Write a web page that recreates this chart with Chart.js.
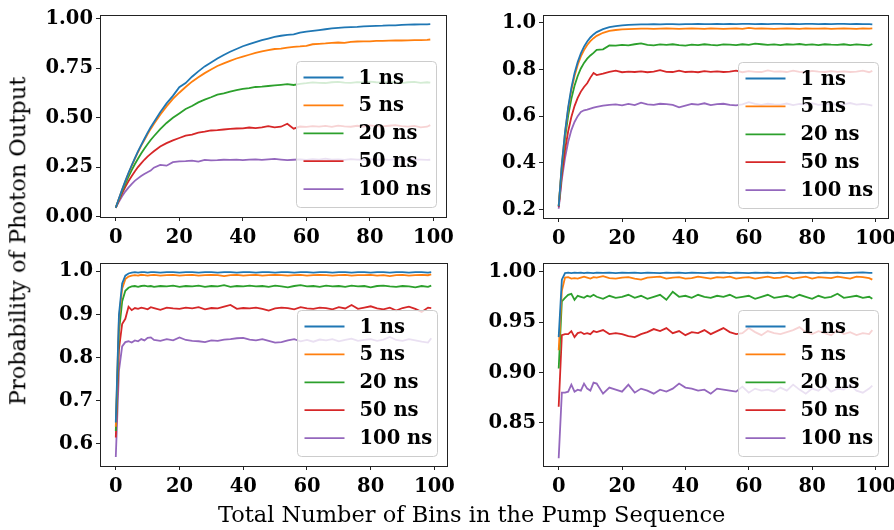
<!DOCTYPE html>
<html>
<head>
<meta charset="utf-8">
<script src="https://cdn.jsdelivr.net/npm/chart.js@4"></script>
<style>
  html, body { margin: 0; padding: 0; background: #fff; }
  #wrap { position: relative; width: 894px; height: 530px; overflow: hidden; background: #fff; }
  #wrap canvas { position: absolute; }
  .lbl { position: absolute; font-family: 'DejaVu Serif', serif; font-size: 22.5px; color: #000; white-space: nowrap; }
</style>
</head>
<body>
<div id="wrap">
  <canvas id="c1"></canvas>
  <canvas id="c2"></canvas>
  <canvas id="c3"></canvas>
  <canvas id="c4"></canvas>
  <div class="lbl" id="ylab">Probability of Photon Output</div>
  <div class="lbl" id="xlab">Total Number of Bins in the Pump Sequence</div>
</div>
<script>
// bins (dense at the start, every 2nd bin after)
const bins = [0,1,2,3,4,5,6,7,8,9,10,11,12,
  14,16,18,20,22,24,26,28,30,32,34,36,38,40,
  42,44,46,48,50,52,54,56,58,60,62,64,66,68,
  70,72,74,76,78,80,82,84,86,88,90,92,94,96,98,99];

const seriesLabels = ['1 ns', '5 ns', '20 ns', '50 ns', '100 ns'];
const colors = ['#1f77b4', '#ff7f0e', '#2ca02c', '#d62728', '#9467bd'];

const xTicks = [0, 20, 40, 60, 80, 100];
const yTicks1 = [0, 0.25, 0.5, 0.75, 1.0];
const yTicks2 = [0.2, 0.4, 0.6, 0.8, 1.0];
const yTicks3 = [0.6, 0.7, 0.8, 0.9, 1.0];
const yTicks4 = [0.85, 0.90, 0.95, 1.00];

// top left
const p1_1ns = [0.045,0.092,0.137,0.180,0.221,0.259,0.295,0.330,0.362,0.393,0.424,0.452,0.478,
  0.528,0.573,0.611,0.655,0.676,0.708,0.735,0.760,0.780,0.800,0.818,0.834,0.848,0.862,
  0.873,0.883,0.893,0.901,0.909,0.915,0.919,0.922,0.931,0.936,0.940,0.944,0.948,0.952,
  0.955,0.957,0.959,0.960,0.962,0.964,0.965,0.966,0.968,0.968,0.970,0.971,0.972,0.973,0.973,0.974];
const p1_5ns = [0.045,0.091,0.136,0.178,0.218,0.256,0.292,0.326,0.358,0.388,0.417,0.444,0.469,
  0.516,0.558,0.596,0.627,0.656,0.683,0.705,0.726,0.744,0.762,0.775,0.788,0.800,0.810,
  0.819,0.828,0.836,0.842,0.848,0.850,0.855,0.859,0.861,0.864,0.872,0.874,0.876,0.879,
  0.881,0.879,0.884,0.886,0.887,0.887,0.889,0.889,0.890,0.891,0.891,0.892,0.893,0.893,0.894,0.896];
const p1_20ns = [0.045,0.088,0.128,0.166,0.201,0.234,0.265,0.293,0.320,0.344,0.366,0.388,0.407,
  0.443,0.474,0.500,0.522,0.545,0.560,0.578,0.592,0.604,0.617,0.624,0.633,0.640,0.646,
  0.650,0.656,0.658,0.661,0.664,0.667,0.670,0.666,0.672,0.675,0.679,0.677,0.676,0.680,
  0.682,0.678,0.677,0.681,0.679,0.683,0.680,0.678,0.682,0.679,0.676,0.680,0.682,0.677,0.680,0.678];
const p1_50ns = [0.045,0.083,0.118,0.150,0.179,0.205,0.229,0.251,0.270,0.288,0.304,0.318,0.331,
  0.355,0.372,0.386,0.398,0.410,0.415,0.425,0.430,0.436,0.438,0.441,0.444,0.446,0.447,
  0.451,0.448,0.452,0.458,0.452,0.455,0.470,0.445,0.456,0.454,0.458,0.456,0.459,0.454,
  0.461,0.457,0.455,0.460,0.456,0.462,0.458,0.457,0.460,0.463,0.458,0.456,0.459,0.452,0.455,0.463];
const p1_100ns = [0.045,0.076,0.103,0.127,0.147,0.165,0.181,0.194,0.206,0.216,0.225,0.233,0.248,
  0.262,0.258,0.276,0.280,0.281,0.284,0.279,0.287,0.285,0.286,0.288,0.287,0.289,0.286,
  0.289,0.290,0.287,0.290,0.292,0.289,0.286,0.288,0.290,0.287,0.291,0.289,0.294,0.288,
  0.290,0.287,0.291,0.289,0.288,0.291,0.288,0.290,0.287,0.291,0.289,0.288,0.290,0.289,0.287,0.288];

// top right
const p2_1ns = [0.213,0.394,0.532,0.639,0.721,0.784,0.832,0.869,0.898,0.920,0.937,0.950,0.960,
  0.973,0.981,0.986,0.989,0.991,0.992,0.993,0.993,0.994,0.993,0.994,0.994,0.993,0.994,
  0.994,0.995,0.994,0.994,0.995,0.994,0.995,0.994,0.995,0.995,0.994,0.995,0.994,0.995,
  0.995,0.994,0.995,0.994,0.995,0.995,0.994,0.995,0.994,0.995,0.995,0.994,0.995,0.994,0.994,0.993];
const p2_5ns = [0.216,0.392,0.527,0.631,0.711,0.772,0.819,0.856,0.883,0.905,0.921,0.934,0.944,
  0.957,0.965,0.969,0.972,0.973,0.974,0.975,0.975,0.974,0.975,0.976,0.975,0.974,0.975,
  0.976,0.975,0.974,0.976,0.975,0.974,0.975,0.976,0.974,0.978,0.975,0.976,0.975,0.974,
  0.975,0.976,0.975,0.974,0.976,0.975,0.975,0.976,0.974,0.975,0.976,0.975,0.974,0.976,0.975,0.976];
const p2_20ns = [0.215,0.380,0.506,0.602,0.674,0.730,0.772,0.804,0.828,0.846,0.860,0.871,0.884,
  0.886,0.903,0.902,0.905,0.903,0.908,0.912,0.905,0.903,0.907,0.905,0.908,0.904,0.902,
  0.906,0.904,0.908,0.905,0.903,0.907,0.906,0.904,0.908,0.905,0.911,0.908,0.905,0.907,
  0.904,0.908,0.906,0.909,0.905,0.907,0.904,0.908,0.906,0.905,0.908,0.904,0.907,0.905,0.903,0.909];
const p2_50ns = [0.210,0.349,0.455,0.535,0.596,0.643,0.678,0.705,0.725,0.741,0.765,0.785,0.776,
  0.782,0.790,0.795,0.788,0.791,0.789,0.792,0.788,0.791,0.797,0.790,0.789,0.795,0.789,
  0.791,0.788,0.793,0.790,0.792,0.789,0.791,0.795,0.788,0.793,0.790,0.789,0.796,0.791,
  0.792,0.789,0.795,0.790,0.788,0.794,0.791,0.789,0.793,0.790,0.792,0.789,0.791,0.795,0.788,0.794];
const p2_100ns = [0.203,0.330,0.420,0.490,0.540,0.575,0.600,0.618,0.625,0.628,0.632,0.636,0.640,
  0.645,0.648,0.650,0.646,0.652,0.647,0.658,0.650,0.648,0.653,0.651,0.648,0.638,0.645,
  0.652,0.649,0.655,0.647,0.651,0.653,0.648,0.646,0.650,0.660,0.652,0.648,0.653,0.650,
  0.649,0.654,0.647,0.652,0.650,0.655,0.648,0.651,0.653,0.647,0.650,0.656,0.649,0.652,0.648,0.645];

// bottom left
const p3_1ns = [0.650,0.900,0.972,0.990,0.995,0.997,0.998,0.997,0.998,0.998,0.997,0.998,0.998,
  0.997,0.998,0.998,0.997,0.998,0.998,0.997,0.998,0.998,0.997,0.998,0.998,0.997,0.998,
  0.998,0.997,0.998,0.998,0.997,0.998,0.998,0.997,0.998,0.998,0.997,0.998,0.998,0.997,
  0.998,0.998,0.997,0.998,0.998,0.997,0.998,0.998,0.997,0.998,0.998,0.997,0.998,0.998,0.997,0.998];
const p3_5ns = [0.640,0.890,0.960,0.982,0.988,0.990,0.991,0.990,0.992,0.991,0.990,0.991,0.992,
  0.990,0.991,0.992,0.990,0.991,0.992,0.990,0.991,0.992,0.991,0.989,0.991,0.992,0.990,
  0.991,0.992,0.990,0.991,0.992,0.991,0.990,0.991,0.992,0.990,0.991,0.992,0.991,0.990,
  0.991,0.992,0.990,0.991,0.991,0.992,0.990,0.991,0.989,0.991,0.992,0.990,0.991,0.992,0.991,0.993];
const p3_20ns = [0.630,0.860,0.930,0.955,0.962,0.965,0.966,0.964,0.966,0.967,0.965,0.966,0.964,
  0.966,0.965,0.967,0.964,0.966,0.965,0.967,0.964,0.966,0.965,0.968,0.964,0.966,0.965,
  0.967,0.965,0.966,0.964,0.967,0.965,0.963,0.966,0.968,0.965,0.966,0.964,0.967,0.965,
  0.966,0.964,0.967,0.965,0.966,0.963,0.966,0.967,0.965,0.964,0.966,0.965,0.963,0.966,0.964,0.967];
const p3_50ns = [0.615,0.820,0.878,0.890,0.918,0.910,0.915,0.913,0.916,0.914,0.912,0.917,0.915,
  0.911,0.916,0.914,0.913,0.916,0.914,0.917,0.912,0.915,0.914,0.918,0.922,0.913,0.915,
  0.914,0.916,0.913,0.909,0.914,0.916,0.915,0.912,0.917,0.914,0.913,0.916,0.915,0.912,
  0.917,0.914,0.922,0.913,0.916,0.919,0.914,0.912,0.916,0.909,0.915,0.918,0.913,0.906,0.916,0.915];
const p3_100ns = [0.570,0.770,0.826,0.836,0.838,0.835,0.840,0.838,0.843,0.840,0.846,0.847,0.841,
  0.839,0.843,0.840,0.847,0.841,0.839,0.838,0.836,0.840,0.839,0.842,0.843,0.845,0.846,
  0.842,0.840,0.843,0.839,0.835,0.836,0.840,0.843,0.838,0.841,0.837,0.842,0.840,0.843,
  0.838,0.841,0.844,0.839,0.841,0.843,0.839,0.842,0.848,0.841,0.839,0.843,0.840,0.837,0.835,0.845];

// bottom right
const p4_1ns = [0.935,0.992,0.9985,0.999,0.9985,0.999,0.9988,0.999,0.9985,0.999,0.9988,0.9985,0.999,
  0.9988,0.999,0.9985,0.999,0.9988,0.999,0.9985,0.999,0.9988,0.9985,0.999,0.9988,0.999,0.9985,
  0.999,0.9988,0.9985,0.999,0.9988,0.999,0.9985,0.999,0.9988,0.9985,0.999,0.9988,0.999,0.9985,
  0.999,0.9988,0.9985,0.999,0.9988,0.999,0.9985,0.999,0.9988,0.999,0.9985,0.9988,0.999,0.9992,0.9988,0.9988];
const p4_5ns = [0.922,0.981,0.994,0.9945,0.993,0.9935,0.993,0.994,0.995,0.994,0.993,0.9945,0.994,
  0.9955,0.9935,0.993,0.994,0.9945,0.993,0.992,0.994,0.9945,0.995,0.993,0.994,0.9945,0.993,
  0.9935,0.995,0.994,0.993,0.9945,0.994,0.995,0.993,0.994,0.9945,0.993,0.994,0.995,0.9935,
  0.994,0.9955,0.993,0.994,0.995,0.993,0.9945,0.994,0.9935,0.995,0.994,0.993,0.995,0.9945,0.9935,0.992];
const p4_20ns = [0.904,0.9705,0.974,0.977,0.978,0.972,0.976,0.975,0.974,0.976,0.975,0.977,0.975,
  0.973,0.976,0.974,0.975,0.977,0.974,0.976,0.973,0.975,0.977,0.972,0.980,0.975,0.976,
  0.974,0.977,0.975,0.974,0.976,0.975,0.977,0.974,0.975,0.976,0.973,0.975,0.977,0.974,
  0.975,0.976,0.974,0.977,0.975,0.973,0.976,0.974,0.975,0.978,0.974,0.975,0.976,0.974,0.975,0.973];
const p4_50ns = [0.866,0.937,0.938,0.938,0.941,0.935,0.939,0.940,0.938,0.939,0.938,0.941,0.940,
  0.942,0.938,0.939,0.938,0.936,0.935,0.938,0.940,0.943,0.941,0.944,0.939,0.941,0.937,
  0.940,0.939,0.942,0.938,0.941,0.944,0.940,0.938,0.939,0.944,0.940,0.937,0.941,0.939,
  0.938,0.940,0.942,0.945,0.940,0.938,0.941,0.939,0.937,0.942,0.938,0.940,0.937,0.939,0.938,0.942];
const p4_100ns = [0.815,0.880,0.880,0.881,0.888,0.881,0.883,0.882,0.889,0.884,0.882,0.890,0.889,
  0.879,0.885,0.883,0.881,0.888,0.880,0.884,0.882,0.879,0.883,0.881,0.884,0.889,0.885,
  0.884,0.882,0.883,0.879,0.884,0.883,0.882,0.881,0.886,0.880,0.884,0.882,0.883,0.881,
  0.885,0.882,0.888,0.883,0.879,0.884,0.882,0.887,0.881,0.884,0.883,0.888,0.882,0.880,0.884,0.887];

const FONT = "'DejaVu Serif', serif";
const FS = 19.5;
const Y_W = 80, X_H = 40, PAD_T = 12, PAD_R = 15;

// draws the box around the plot and the matplotlib-style legend
const framePlugin = {
  id: 'frame',
  afterDatasetsDraw(chart) {
    const ctx = chart.ctx, a = chart.chartArea;
    ctx.save();
    // legend, lower right
    const w = 140, h = 146;
    const x0 = a.right - 9.5 - w, y0 = a.bottom - 9.5 - h;
    ctx.beginPath();
    ctx.roundRect(x0, y0, w, h, 4);
    ctx.fillStyle = 'rgba(255,255,255,0.8)';
    ctx.fill();
    ctx.strokeStyle = '#cccccc';
    ctx.lineWidth = 1;
    ctx.stroke();
    ctx.font = 'bold ' + FS + 'px ' + FONT;
    ctx.textBaseline = 'middle';
    ctx.fillStyle = '#000';
    chart.data.datasets.forEach((ds, i) => {
      const yy = y0 + 16 + i * 27.9;
      ctx.beginPath();
      ctx.moveTo(x0 + 7, yy);
      ctx.lineTo(x0 + 47, yy);
      ctx.strokeStyle = ds.borderColor;
      ctx.lineWidth = 1.8;
      ctx.stroke();
      ctx.fillText(ds.label, x0 + 62, yy + 1);
    });
    // frame
    ctx.strokeStyle = '#222';
    ctx.lineWidth = 1;
    ctx.strokeRect(Math.round(a.left) + 0.5, Math.round(a.top) + 0.5,
      Math.round(a.right - a.left), Math.round(a.bottom - a.top));
    ctx.restore();
  }
};

function makePanel(id, area, series, yMin, yMax, yTicks, dec) {
  const cv = document.getElementById(id);
  const w = area.r - area.l + Y_W + PAD_R;
  const h = area.b - area.t + PAD_T + X_H;
  cv.width = w; cv.height = h;
  cv.style.left = (area.l - Y_W) + 'px';
  cv.style.top = (area.t - PAD_T) + 'px';
  cv.style.width = w + 'px'; cv.style.height = h + 'px';

  new Chart(cv, {
    type: 'line',
    data: {
      datasets: series.map((vals, i) => ({
        label: seriesLabels[i],
        data: vals.map((v, j) => ({ x: bins[j], y: v })),
        borderColor: colors[i],
        borderWidth: 1.8,
        pointRadius: 0,
        fill: false,
        tension: 0
      }))
    },
    options: {
      responsive: false,
      animation: false,
      devicePixelRatio: 1,
      layout: { padding: { top: PAD_T, right: PAD_R, left: 0, bottom: 0 } },
      plugins: { legend: { display: false }, tooltip: { enabled: false } },
      scales: {
        x: {
          type: 'linear', min: -4.95, max: 103.95,
          afterBuildTicks: s => { s.ticks = xTicks.map(v => ({ value: v })); },
          afterFit: s => { s.height = X_H; },
          grid: { display: true, drawOnChartArea: false, drawTicks: true, tickLength: 4, color: '#222' },
          border: { display: false },
          ticks: { color: '#000', padding: 5, maxRotation: 0,
            font: { family: FONT, size: FS, weight: 'bold' },
            callback: v => String(v) }
        },
        y: {
          type: 'linear', min: yMin, max: yMax,
          afterBuildTicks: s => { s.ticks = yTicks.map(v => ({ value: v })); },
          afterFit: s => { s.width = Y_W; },
          grid: { display: true, drawOnChartArea: false, drawTicks: true, tickLength: 4, color: '#222' },
          border: { display: false },
          ticks: { color: '#000', padding: 3,
            font: { family: FONT, size: FS, weight: 'bold' },
            callback: v => Number(v).toFixed(dec) }
        }
      }
    },
    plugins: [framePlugin]
  });
}

makePanel('c1', { l: 100, t: 12, r: 446, b: 217 },
  [p1_1ns, p1_5ns, p1_20ns, p1_50ns, p1_100ns], -0.0015, 1.0215, yTicks1, 2);
makePanel('c2', { l: 543, t: 12, r: 888, b: 218 },
  [p2_1ns, p2_5ns, p2_20ns, p2_50ns, p2_100ns], 0.1634, 1.0346, yTicks2, 1);
makePanel('c3', { l: 100, t: 260, r: 447, b: 466 },
  [p3_1ns, p3_5ns, p3_20ns, p3_50ns, p3_100ns], 0.5490, 1.0200, yTicks3, 1);
makePanel('c4', { l: 543, t: 260, r: 888, b: 466 },
  [p4_1ns, p4_5ns, p4_20ns, p4_50ns, p4_100ns], 0.8073, 1.0088, yTicks4, 2);

// shared axis labels
const ylab = document.getElementById('ylab');
const xlab = document.getElementById('xlab');
ylab.style.left = (17 - ylab.offsetWidth / 2) + 'px';
ylab.style.top = (241 - ylab.offsetHeight / 2) + 'px';
ylab.style.transform = 'rotate(-90deg)';
xlab.style.left = (471.5 - xlab.offsetWidth / 2) + 'px';
xlab.style.top = (514 - xlab.offsetHeight / 2) + 'px';
</script>
</body>
</html>
